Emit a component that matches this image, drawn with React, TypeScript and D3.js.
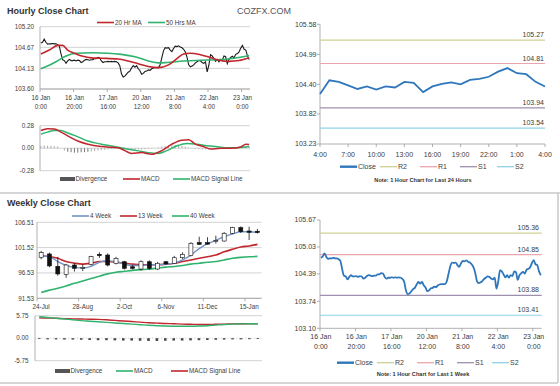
import React from 'react';
import * as d3 from 'd3';

// ---------------- data ----------------
// hourly closes, 16 Jan 0:00 .. 23 Jan 4:00 (weekend skipped)
const hourlyClose: number[] = [
  104.78, 104.80, 104.88, 104.80, 104.75, 104.76, 104.76, 104.77, 104.76, 104.76,
  104.74, 104.70, 104.50, 104.35, 104.33, 104.26, 104.32, 104.36, 104.33, 104.33,
  104.34, 104.32, 104.34, 104.33, 104.28, 104.30, 104.34, 104.36, 104.35, 104.34,
  104.35, 104.35, 104.38, 104.38, 104.41, 104.40, 104.32, 104.28, 104.30, 104.30,
  104.31, 104.30, 104.31, 104.30, 104.31, 104.30, 104.27, 104.20, 103.99, 103.91,
  103.93, 103.98, 104.03, 104.06, 104.14, 104.20, 104.16, 104.20, 104.12, 104.07,
  103.98, 104.00, 104.05, 104.06, 104.09, 104.08, 104.12, 104.14, 104.15, 104.15,
  104.15, 104.22, 104.40, 104.58, 104.66, 104.65, 104.66, 104.60, 104.56, 104.64,
  104.70, 104.69, 104.71, 104.68, 104.66, 104.62, 104.55, 104.42, 104.22, 104.17,
  104.19, 104.22, 104.27, 104.30, 104.33, 104.32, 104.28, 104.26, 104.30, 104.04,
  104.21, 104.48, 104.45, 104.38, 104.31, 104.36, 104.30, 104.36, 104.34, 104.45,
  104.43, 104.25, 104.36, 104.41, 104.44, 104.40, 104.49, 104.51, 104.55, 104.65,
  104.72, 104.62, 104.60, 104.45, 104.36,
];
const hourTickIdx = [0, 20, 40, 60, 80, 100, 120];
const hourTickDay = ['16 Jan', '16 Jan', '17 Jan', '20 Jan', '21 Jan', '22 Jan', '23 Jan'];
const hourTickTime = ['0:00', '20:00', '16:00', '12:00', '8:00', '4:00', '0:00'];
const hourlyPriceTicks = [103.6, 104.13, 104.67, 105.2];

// [hour index, value]
const ma20: [number, number][] = [
  [0, 104.5], [5, 104.6], [10, 104.72], [13, 104.72], [16, 104.6], [20, 104.52], [25, 104.44],
  [30, 104.4], [36, 104.39], [46, 104.37], [52, 104.32], [58, 104.25], [64, 104.18], [70, 104.15],
  [76, 104.22], [81, 104.38], [85, 104.5], [89, 104.52], [95, 104.48], [100, 104.42], [106, 104.34],
  [112, 104.31], [118, 104.33], [124, 104.4],
];
const ma50: [number, number][] = [
  [0, 104.12], [5, 104.21], [9, 104.3], [15, 104.45], [21, 104.52], [30, 104.53], [40, 104.52],
  [48, 104.49], [56, 104.43], [64, 104.32], [70, 104.27], [75, 104.28], [85, 104.32], [95, 104.34],
  [105, 104.35], [115, 104.39], [124, 104.46],
];
const macdH: [number, number][] = [
  [0, 0.22], [4, 0.243], [8, 0.24], [12, 0.2], [16, 0.153], [22, 0.089], [28, 0.049], [36, 0.02],
  [46, 0.005], [50, -0.03], [54, -0.065], [60, -0.055], [66, -0.075], [72, -0.03], [78, 0.05],
  [84, 0.1], [88, 0.105], [92, 0.05], [97, 0.019], [101, -0.01], [107, -0.002], [113, -0.002],
  [119, 0.015], [122, 0.05], [124, 0.045],
];
const signalH: [number, number][] = [
  [0, 0.175], [4, 0.2], [8, 0.22], [12, 0.22], [16, 0.19], [20, 0.16], [28, 0.09], [36, 0.05],
  [46, 0.012], [54, -0.02], [60, -0.04], [64, -0.055], [70, -0.065], [75, -0.03], [81, 0.03],
  [87, 0.06], [93, 0.048], [99, 0.03], [105, 0.019], [111, 0.006], [117, 0.006], [124, 0.02],
];
// divergence every 2 hours
const divergenceH: number[] = [
  0.03, 0.035, 0.03, 0.03, 0.025, 0.02, 0.0, -0.03, -0.045, -0.05, -0.055, -0.055, -0.05, -0.05,
  -0.045, -0.04, -0.035, -0.03, -0.025, -0.02, -0.015, -0.01, -0.008, -0.005, -0.01, -0.015, -0.02,
  -0.02, -0.018, -0.015, -0.015, -0.012, -0.01, -0.005, 0.0, 0.01, 0.02, 0.03, 0.035, 0.04, 0.04,
  0.035, 0.03, 0.02, 0.01, 0.0, -0.01, -0.012, -0.015, -0.015, -0.015, -0.012, -0.01, -0.008,
  -0.005, -0.003, 0.0, 0.003, 0.005, 0.01, 0.02, 0.025, 0.02,
];
const macdHTicks = [-0.28, 0, 0.28];

// last 24 hours
const dayTickHours = [0, 3, 6, 9, 12, 15, 18, 21, 24];
const dayTickLabels = ['4:00', '7:00', '10:00', '13:00', '16:00', '19:00', '22:00', '1:00', '4:00'];
const dayPriceTicks = [103.23, 103.82, 104.4, 104.99, 105.58];
const dayLevels = [105.27, 104.81, 103.94, 103.54];
const levelNames = ['R2', 'R1', 'S1', 'S2'];

// last week hourly
const weekHourTicks = [103.1, 103.74, 104.39, 105.03, 105.67];
const weekLevels = [105.36, 104.85, 103.88, 103.41];

// weekly candles
const weekOpen = [99.62, 100.27, 97.84, 96.26, 98.09, 97.5, 98.23, 100.2, 100.06, 98.42, 98.74, 97.75, 97.3, 98.74, 97.3, 98.74, 98.42, 99.53, 99.93, 102.5, 102.5, 102.7, 102.82, 104.34, 105.45, 104.8, 104.75];
const weekClose = [100.53, 97.91, 96.33, 98.09, 97.44, 97.6, 99.73, 99.93, 98.09, 99.41, 97.44, 97.44, 98.74, 97.44, 98.42, 98.3, 99.53, 100.2, 102.37, 102.17, 102.2, 102.9, 104.34, 105.45, 104.67, 104.54, 104.5];
const weekHigh = [100.86, 100.53, 99.7, 98.3, 98.5, 98.2, 99.9, 100.6, 100.4, 99.7, 98.9, 98.1, 99.0, 99.0, 98.7, 98.9, 99.9, 100.6, 102.6, 103.67, 103.57, 103.87, 104.6, 105.6, 105.7, 105.64, 105.2];
const weekLow = [99.22, 97.65, 96.0, 95.58, 96.8, 96.9, 98.0, 99.5, 97.8, 98.2, 97.2, 97.2, 97.0, 97.1, 97.1, 98.1, 98.3, 99.3, 99.8, 102.1, 102.1, 102.3, 102.7, 104.2, 104.4, 103.02, 104.3];
const ma4w = [99.92, 99.73, 98.77, 98.0, 97.62, 97.49, 97.81, 98.64, 98.9, 98.77, 98.26, 98.0, 98.0, 98.13, 98.13, 98.26, 98.45, 99.09, 100.05, 101.33, 102.29, 102.93, 103.69, 104.21, 104.65, 104.65, 104.53];
const ma13w = [99.92, 99.73, 99.41, 98.77, 98.45, 98.26, 98.45, 98.77, 98.77, 98.64, 98.45, 98.26, 98.13, 98.13, 98.13, 98.26, 98.45, 98.77, 99.09, 99.41, 99.73, 100.05, 100.69, 101.2, 101.65, 101.84, 102.16];
const ma40w = [92.69, 93.14, 93.52, 93.97, 94.48, 94.93, 95.44, 95.89, 96.34, 96.66, 96.85, 97.04, 97.17, 97.3, 97.49, 97.68, 97.81, 98.0, 98.26, 98.45, 98.64, 98.77, 99.09, 99.41, 99.6, 99.73, 99.79];
const weekTickIdx = [0, 5, 10, 15, 20, 25];
const weekTickLabels = ['24-Jul', '28-Aug', '2-Oct', '6-Nov', '11-Dec', '15-Jan'];
const weekPriceTicks = [91.53, 96.53, 101.52, 106.51];
const macdW = [5.5, 5.3, 5.1, 4.9, 4.7, 4.5, 4.35, 4.2, 4.05, 3.9, 3.75, 3.6, 3.45, 3.3, 3.2, 3.1, 3.05, 3.05, 3.05, 3.1, 3.2, 3.35, 3.5, 3.6, 3.65, 3.7, 3.7];
const signalW = [5.2, 5.15, 5.1, 5.0, 4.95, 4.9, 4.85, 4.8, 4.7, 4.55, 4.4, 4.25, 4.1, 3.95, 3.85, 3.75, 3.7, 3.6, 3.55, 3.5, 3.5, 3.55, 3.6, 3.65, 3.7, 3.7, 3.7];
const divergenceW = [-0.2, -0.3, -0.3, -0.35, -0.35, -0.4, -0.45, -0.5, -0.5, -0.55, -0.6, -0.6, -0.65, -0.7, -0.7, -0.65, -0.6, -0.6, -0.55, -0.5, -0.45, -0.4, -0.35, -0.3, -0.3, -0.25, -0.2];
const macdWTicks = [-5.75, 0, 5.75];

// ---------------- style ----------------
const FONT = "'Liberation Sans', Arial, sans-serif";
const GRID = '#c6c6c6';
const AXIS = '#9c9c9c';
const TXT = '#3c3c3c';
const RED = '#c1272d';
const GREEN = '#2fb36e';
const BLUE = '#2f77bc';
const BLUE4 = '#7095c6';
const LEVEL_COLORS = ['#cfd096', '#eaa6ad', '#9f8fae', '#90d2e6'];

type LegendItem = { label: string; color: string; kind: 'line' | 'bar'; w?: number };

function Legend({ items, xs, y, size }: { items: LegendItem[]; xs: number[]; y: number; size: number }) {
  return (
    <g>
      {items.map((it, i) => (
        <g key={i}>
          {it.kind === 'line' ? (
            <line x1={xs[i]} x2={xs[i] + 17} y1={y} y2={y} stroke={it.color} strokeWidth={it.w ?? 1.6} />
          ) : (
            <rect x={xs[i]} y={y - 2} width={15} height={4} fill={it.color} />
          )}
          <text x={xs[i] + (it.kind === 'line' ? 18 : 15.5)} y={y + size * 0.35} fontSize={size} fill={TXT}>
            {it.label}
          </text>
        </g>
      ))}
    </g>
  );
}

function YLabels({ ticks, y, x, size, digits = 2 }: { ticks: number[]; y: d3.ScaleLinear<number, number>; x: number; size: number; digits?: number }) {
  return (
    <g>
      {ticks.map((t, i) => (
        <text key={i} x={x} y={y(t) + size * 0.35} fontSize={size} fill={TXT} textAnchor="end">
          {t.toFixed(digits)}
        </text>
      ))}
    </g>
  );
}

function Grid({ ticks, y, x0, x1 }: { ticks: number[]; y: d3.ScaleLinear<number, number>; x0: number; x1: number }) {
  return (
    <g>
      {ticks.map((t, i) => (
        <line key={i} x1={x0} x2={x1} y1={y(t)} y2={y(t)} stroke={GRID} strokeWidth={0.8} />
      ))}
    </g>
  );
}

export default function App() {
  // ---- hourly (top-left) ----
  const hx = d3.scaleBand<number>().domain(d3.range(hourlyClose.length)).range([40, 250]);
  const hcx = (i: number) => (hx(i) ?? 0) + hx.bandwidth() / 2;
  const hy = d3.scaleLinear().domain([103.6, 105.2]).range([89, 26.7]);
  const closeLineH = d3.line<number>().x((_, i) => hcx(i)).y((d) => hy(d))(hourlyClose) ?? '';
  const tupLine = (yS: d3.ScaleLinear<number, number>) =>
    d3.line<[number, number]>().x((d) => hcx(d[0])).y((d) => yS(d[1])).curve(d3.curveMonotoneX);
  const my = d3.scaleLinear().domain([-0.28, 0.28]).range([170.7, 125.7]);

  // ---- last 24h (top-right) ----
  const dayClose = hourlyClose.slice(hourlyClose.length - 25);
  const dx = d3.scaleLinear().domain([0, 24]).range([320, 545]);
  const dy = d3.scaleLinear().domain([103.23, 105.58]).range([144, 24.3]);
  const dayLine = d3.line<number>().x((_, i) => dx(i)).y((d) => dy(d))(dayClose) ?? '';

  // ---- last week hourly (bottom-right) ----
  const bx = d3.scaleBand<number>().domain(d3.range(hourlyClose.length)).range([320, 541.7]);
  const bcx = (i: number) => (bx(i) ?? 0) + bx.bandwidth() / 2;
  const by = d3.scaleLinear().domain([103.1, 105.67]).range([328.3, 220]);
  const weekHourLine = d3.line<number>().x((_, i) => bcx(i)).y((d) => by(d)).curve(d3.curveMonotoneX)(hourlyClose) ?? '';

  // ---- weekly (bottom-left) ----
  const wx = d3.scaleBand<number>().domain(d3.range(weekClose.length)).range([37, 261.6]);
  const wcx = (i: number) => (wx(i) ?? 0) + wx.bandwidth() / 2;
  const wy = d3.scaleLinear().domain([91.53, 106.51]).range([298.3, 222.3]);
  const wLine = (arr: number[]) => d3.line<number>().x((_, i) => wcx(i)).y((d) => wy(d)).curve(d3.curveMonotoneX)(arr) ?? '';
  const wmx = d3.scaleBand<number>().domain(d3.range(weekClose.length)).range([35, 262]);
  const wmcx = (i: number) => (wmx(i) ?? 0) + wmx.bandwidth() / 2;
  const wmy = d3.scaleLinear().domain([-5.75, 5.75]).range([360.7, 315.7]);
  const wmLine = (arr: number[]) => d3.line<number>().x((_, i) => wmcx(i)).y((d) => wmy(d)).curve(d3.curveMonotoneX)(arr) ?? '';

  const LS = 6.3; // left font size
  const RS = 7; // right font size

  return (
    <svg width={560} height={386} style={{ position: 'absolute', left: 0, top: 0, background: '#fff' }} fontFamily={FONT}>
      <rect x={0} y={0} width={560} height={386} fill="#fff" />
      {/* titles */}
      <text x={7} y={13.5} fontSize={9} fontWeight="bold" fill="#333">Hourly Close Chart</text>
      <text x={237} y={13.5} fontSize={9} fill="#555">COZFX.COM</text>
      <text x={7} y={206} fontSize={9} fontWeight="bold" fill="#333">Weekly Close Chart</text>

      {/* separators */}
      <line x1={0} x2={560} y1={193} y2={193} stroke="#c8c8c8" strokeWidth={1.5} />
      <line x1={0} x2={558} y1={383} y2={383} stroke="#c8c8c8" strokeWidth={1.5} />
      <line x1={558} x2={558} y1={193} y2={383} stroke="#c8c8c8" strokeWidth={1.5} />

      {/* ===== Hourly price ===== */}
      <Legend
        items={[
          { label: '20 Hr MA', color: RED, kind: 'line' },
          { label: '50 Hrs MA', color: GREEN, kind: 'line' },
        ]}
        xs={[97, 148]}
        y={22.5}
        size={LS}
      />
      <Grid ticks={hourlyPriceTicks} y={hy} x0={40} x1={250} />
      <line x1={40} x2={40} y1={hy(105.2)} y2={hy(103.6)} stroke={AXIS} strokeWidth={0.8} />
      <line x1={40} x2={250} y1={hy(103.6)} y2={hy(103.6)} stroke={AXIS} strokeWidth={0.8} />
      <YLabels ticks={hourlyPriceTicks} y={hy} x={34} size={LS} />
      {hourTickIdx.map((t, i) => (
        <g key={i}>
          <line x1={hx(t)} x2={hx(t)} y1={89} y2={92} stroke={AXIS} strokeWidth={0.8} />
          <text x={hcx(t)} y={99.5} fontSize={LS} fill={TXT} textAnchor="middle">{hourTickDay[i]}</text>
          <text x={hcx(t)} y={108.5} fontSize={LS} fill={TXT} textAnchor="middle">{hourTickTime[i]}</text>
        </g>
      ))}
      <path d={closeLineH} fill="none" stroke="#1a1a1a" strokeWidth={1.1} />
      <path d={tupLine(hy)(ma50) ?? ''} fill="none" stroke={GREEN} strokeWidth={1.6} />
      <path d={tupLine(hy)(ma20) ?? ''} fill="none" stroke={RED} strokeWidth={1.6} />

      {/* ===== Hourly MACD ===== */}
      <Grid ticks={macdHTicks} y={my} x0={40} x1={250} />
      <line x1={40} x2={40} y1={my(0.28)} y2={my(-0.28)} stroke={AXIS} strokeWidth={0.8} />
      <YLabels ticks={macdHTicks} y={my} x={34} size={LS} />
      {divergenceH.map((v, k) => (
        <rect
          key={k}
          x={hcx(k * 2) - 0.5}
          width={1}
          y={Math.min(my(0), my(v))}
          height={Math.abs(my(v) - my(0))}
          fill={v < -0.04 ? '#777' : '#a8a8a8'}
        />
      ))}
      <path d={tupLine(my)(signalH) ?? ''} fill="none" stroke={GREEN} strokeWidth={1.5} />
      <path d={tupLine(my)(macdH) ?? ''} fill="none" stroke={RED} strokeWidth={1.5} />
      <Legend
        items={[
          { label: 'Divergence', color: '#555', kind: 'bar' },
          { label: 'MACD', color: RED, kind: 'line' },
          { label: 'MACD Signal Line', color: GREEN, kind: 'line' },
        ]}
        xs={[60, 123, 173]}
        y={179}
        size={LS}
      />

      {/* ===== Last 24 hours ===== */}
      <line x1={320} x2={320} y1={dy(105.58)} y2={dy(103.23)} stroke={AXIS} strokeWidth={0.8} />
      <line x1={320} x2={545} y1={dy(103.23)} y2={dy(103.23)} stroke={AXIS} strokeWidth={0.8} />
      {dayPriceTicks.map((t, i) => (
        <line key={i} x1={317} x2={320} y1={dy(t)} y2={dy(t)} stroke={AXIS} strokeWidth={0.8} />
      ))}
      <YLabels ticks={dayPriceTicks} y={dy} x={316.5} size={RS} />
      {dayTickHours.map((h, i) => (
        <g key={i}>
          <line x1={dx(h)} x2={dx(h)} y1={144} y2={147} stroke={AXIS} strokeWidth={0.8} />
          <text x={dx(h)} y={156.5} fontSize={RS} fill={TXT} textAnchor="middle">{dayTickLabels[i]}</text>
        </g>
      ))}
      {dayLevels.map((v, i) => (
        <g key={i}>
          <line x1={320} x2={545} y1={dy(v)} y2={dy(v)} stroke={LEVEL_COLORS[i]} strokeWidth={1.2} />
          <text x={544} y={dy(v) - 3} fontSize={RS} fill={TXT} textAnchor="end">{v.toFixed(2)}</text>
        </g>
      ))}
      <path d={dayLine} fill="none" stroke={BLUE} strokeWidth={1.8} />
      <Legend
        items={[
          { label: 'Close', color: BLUE, kind: 'line', w: 2.4 },
          ...levelNames.map((n, i) => ({ label: n, color: LEVEL_COLORS[i], kind: 'line' as const, w: 1.3 })),
        ]}
        xs={[340, 380, 420, 460, 497]}
        y={166.7}
        size={RS}
      />
      <text x={423} y={182} fontSize={5.6} fontWeight="bold" fill="#333" textAnchor="middle">
        Note: 1 Hour Chart for Last 24 Hours
      </text>

      {/* ===== Weekly price ===== */}
      <Legend
        items={[
          { label: '4 Week', color: BLUE4, kind: 'line' },
          { label: '13 Week', color: RED, kind: 'line' },
          { label: '40 Week', color: GREEN, kind: 'line' },
        ]}
        xs={[72, 120, 172]}
        y={216}
        size={LS}
      />
      <Grid ticks={weekPriceTicks} y={wy} x0={37} x1={261.6} />
      <line x1={37} x2={37} y1={wy(106.51)} y2={wy(91.53)} stroke={AXIS} strokeWidth={0.8} />
      <line x1={37} x2={261.6} y1={wy(91.53)} y2={wy(91.53)} stroke={AXIS} strokeWidth={0.8} />
      <YLabels ticks={weekPriceTicks} y={wy} x={34} size={LS} />
      {weekTickIdx.map((t, i) => (
        <g key={i}>
          <line x1={wx(t)} x2={wx(t)} y1={298.3} y2={301.3} stroke={AXIS} strokeWidth={0.8} />
          <text x={wcx(t)} y={309} fontSize={LS} fill={TXT} textAnchor="middle">{weekTickLabels[i]}</text>
        </g>
      ))}
      <path d={wLine(ma40w)} fill="none" stroke={GREEN} strokeWidth={1.6} />
      <path d={wLine(ma13w)} fill="none" stroke={RED} strokeWidth={1.6} />
      <path d={wLine(ma4w)} fill="none" stroke={BLUE4} strokeWidth={1.4} />
      {weekClose.map((c, i) => {
        const o = weekOpen[i];
        const up = c >= o;
        const top = wy(Math.max(o, c));
        const bot = wy(Math.min(o, c));
        return (
          <g key={i}>
            <line x1={wcx(i)} x2={wcx(i)} y1={wy(weekHigh[i])} y2={wy(weekLow[i])} stroke="#111" strokeWidth={0.8} />
            <rect
              x={wcx(i) - 2}
              width={4}
              y={top}
              height={Math.max(bot - top, 0.8)}
              fill={up ? '#fff' : '#111'}
              stroke="#111"
              strokeWidth={0.6}
            />
          </g>
        );
      })}

      {/* ===== Weekly MACD ===== */}
      <Grid ticks={[5.75, -5.75]} y={wmy} x0={35} x1={262} />
      <line x1={35} x2={35} y1={wmy(5.75)} y2={wmy(-5.75)} stroke={AXIS} strokeWidth={0.8} />
      <line x1={35} x2={262} y1={wmy(0)} y2={wmy(0)} stroke="#bbb" strokeWidth={0.6} strokeDasharray="1.5 1.5" />
      <YLabels ticks={macdWTicks} y={wmy} x={28.5} size={LS} />
      {divergenceW.map((v, i) => (
        <rect key={i} x={wmcx(i) - 1.3} width={2.6} y={wmy(0)} height={wmy(v) - wmy(0)} fill="#444" />
      ))}
      <path d={wmLine(signalW)} fill="none" stroke={RED} strokeWidth={1.4} />
      <path d={wmLine(macdW)} fill="none" stroke={GREEN} strokeWidth={1.4} />
      <Legend
        items={[
          { label: 'Divergence', color: '#555', kind: 'bar' },
          { label: 'MACD', color: GREEN, kind: 'line' },
          { label: 'MACD Signal Line', color: RED, kind: 'line' },
        ]}
        xs={[55, 116, 171]}
        y={371}
        size={LS}
      />

      {/* ===== Last week hourly ===== */}
      <line x1={320} x2={320} y1={by(105.67)} y2={by(103.1)} stroke={AXIS} strokeWidth={0.8} />
      <line x1={320} x2={541.7} y1={by(103.1)} y2={by(103.1)} stroke={AXIS} strokeWidth={0.8} />
      {weekHourTicks.map((t, i) => (
        <line key={i} x1={317} x2={320} y1={by(t)} y2={by(t)} stroke={AXIS} strokeWidth={0.8} />
      ))}
      <YLabels ticks={weekHourTicks} y={by} x={316} size={RS} />
      {hourTickIdx.map((t, i) => (
        <g key={i}>
          <line x1={bx(t)} x2={bx(t)} y1={328.3} y2={331.3} stroke={AXIS} strokeWidth={0.8} />
          <text x={bcx(t)} y={339.2} fontSize={RS} fill={TXT} textAnchor="middle">{hourTickDay[i]}</text>
          <text x={bcx(t)} y={348.5} fontSize={RS} fill={TXT} textAnchor="middle">{hourTickTime[i]}</text>
        </g>
      ))}
      {weekLevels.map((v, i) => (
        <g key={i}>
          <line x1={320} x2={541.7} y1={by(v)} y2={by(v)} stroke={LEVEL_COLORS[i]} strokeWidth={1.2} />
          <text x={539} y={by(v) - 3} fontSize={RS} fill={TXT} textAnchor="end">{v.toFixed(2)}</text>
        </g>
      ))}
      <path d={weekHourLine} fill="none" stroke={BLUE} strokeWidth={1.8} />
      <Legend
        items={[
          { label: 'Close', color: BLUE, kind: 'line', w: 2.4 },
          ...levelNames.map((n, i) => ({ label: n, color: LEVEL_COLORS[i], kind: 'line' as const, w: 1.3 })),
        ]}
        xs={[337, 377, 417, 457, 492]}
        y={362.7}
        size={RS}
      />
      <text x={423} y={376} fontSize={5.6} fontWeight="bold" fill="#333" textAnchor="middle">
        Note: 1 Hour Chart for Last 1 Week
      </text>
    </svg>
  );
}
